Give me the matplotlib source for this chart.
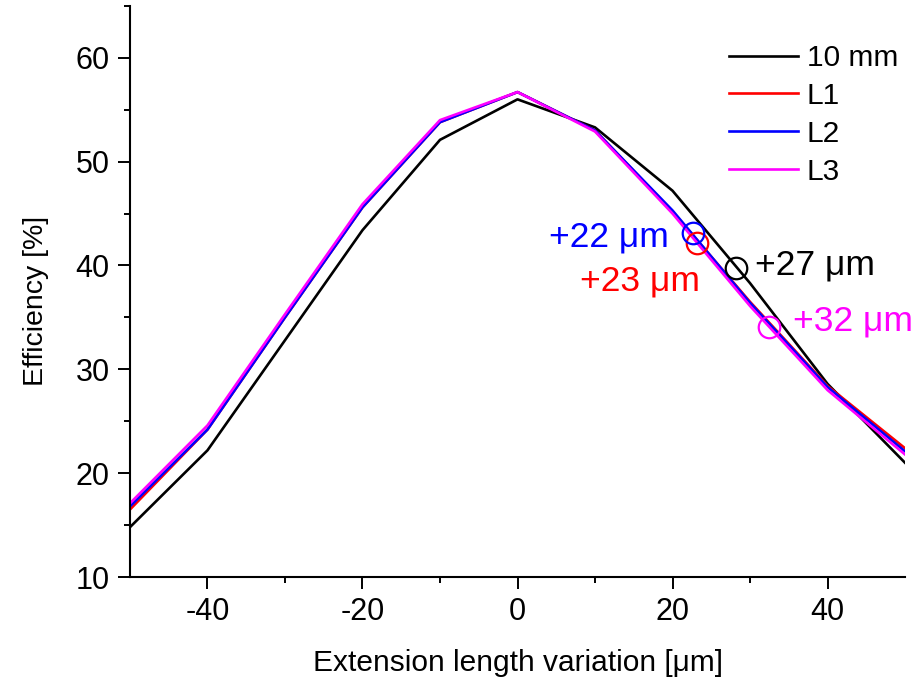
import numpy as np
import matplotlib
import matplotlib.pyplot as plt

matplotlib.use("Agg")

plt.rcParams["font.family"] = ["Liberation Sans", "DejaVu Sans"]
plt.rcParams["axes.unicode_minus"] = False

# extension length variation [um]
x = [-50, -40, -30, -20, -10, 0, 10, 20, 30, 40, 50]

mm10 = [14.8, 22.2, 32.8, 43.4, 52.1, 56.0, 53.3, 47.2, 38.3, 28.6, 21.0]
L1 = [16.5, 24.2, 35.0, 45.6, 53.8, 56.7, 53.0, 45.2, 36.5, 28.4, 22.4]
L2 = [16.8, 24.2, 35.0, 45.6, 53.8, 56.7, 53.0, 45.3, 36.4, 28.3, 22.1]
L3 = [17.1, 24.6, 35.3, 45.9, 54.0, 56.7, 52.9, 45.0, 36.1, 28.0, 21.8]

names = ["10 mm", "L1", "L2", "L3"]
series = [mm10, L1, L2, L3]
colors = ["black", "#FF0000", "#0000FF", "#FF00FF"]

# marked points (circle position) and their labels
mark_x = [28.2, 23.2, 22.6, 32.4]
mark_y = [39.75, 42.2, 43.1, 34.1]
mark_txt = ["+27 μm", "+23 μm", "+22 μm", "+32 μm"]
txt_x = [30.7, 23.6, 19.5, 35.5]
txt_y = [40.0, 38.5, 42.7, 34.7]
txt_ha = ["left", "right", "right", "left"]

fig = plt.figure(figsize=(9.14, 6.84), dpi=100)
ax = fig.add_axes([0.1422, 0.1564, 0.848, 0.835])

for name, y, c in zip(names, series, colors):
    ax.plot(x, y, color=c, lw=1.9, label=name)

for mx, my, c in zip(mark_x, mark_y, colors):
    ax.plot(mx, my, "o", ms=15.5, mfc="none", mec=c, mew=1.6)

for tx, ty, t, c, ha in zip(txt_x, txt_y, mark_txt, colors, txt_ha):
    ax.text(tx, ty, t, color=c, fontsize=25.5, ha=ha, va="center", clip_on=False)

ax.set_xlim(-50, 50)
ax.set_ylim(10, 65)
ax.set_xticks([-40, -20, 0, 20, 40])
ax.set_xticks([-30, -10, 10, 30], minor=True)
ax.set_yticks([10, 20, 30, 40, 50, 60])
ax.set_yticks([15, 25, 35, 45, 55, 65], minor=True)

ax.spines["top"].set_visible(False)
ax.spines["right"].set_visible(False)
ax.spines["left"].set_linewidth(1.5)
ax.spines["bottom"].set_linewidth(1.5)

ax.tick_params(which="major", direction="out", length=8.5, width=1.4, labelsize=22, pad=6)
ax.tick_params(which="minor", direction="out", length=4.5, width=1.4)

ax.set_xlabel("Extension length variation [μm]", fontsize=21.5, labelpad=16)
ax.set_ylabel("Efficiency [%]", fontsize=20.5)
ax.yaxis.set_label_coords(-0.105, 0.483)

ax.legend(loc="upper left", bbox_to_anchor=(729 / 914, 1 - 44 / 684), bbox_transform=fig.transFigure,
          frameon=False, fontsize=21.5, handlelength=2.3, handletextpad=0.3, labelspacing=0.33,
          borderpad=0, borderaxespad=0)

fig.savefig("out.png", dpi=100)
